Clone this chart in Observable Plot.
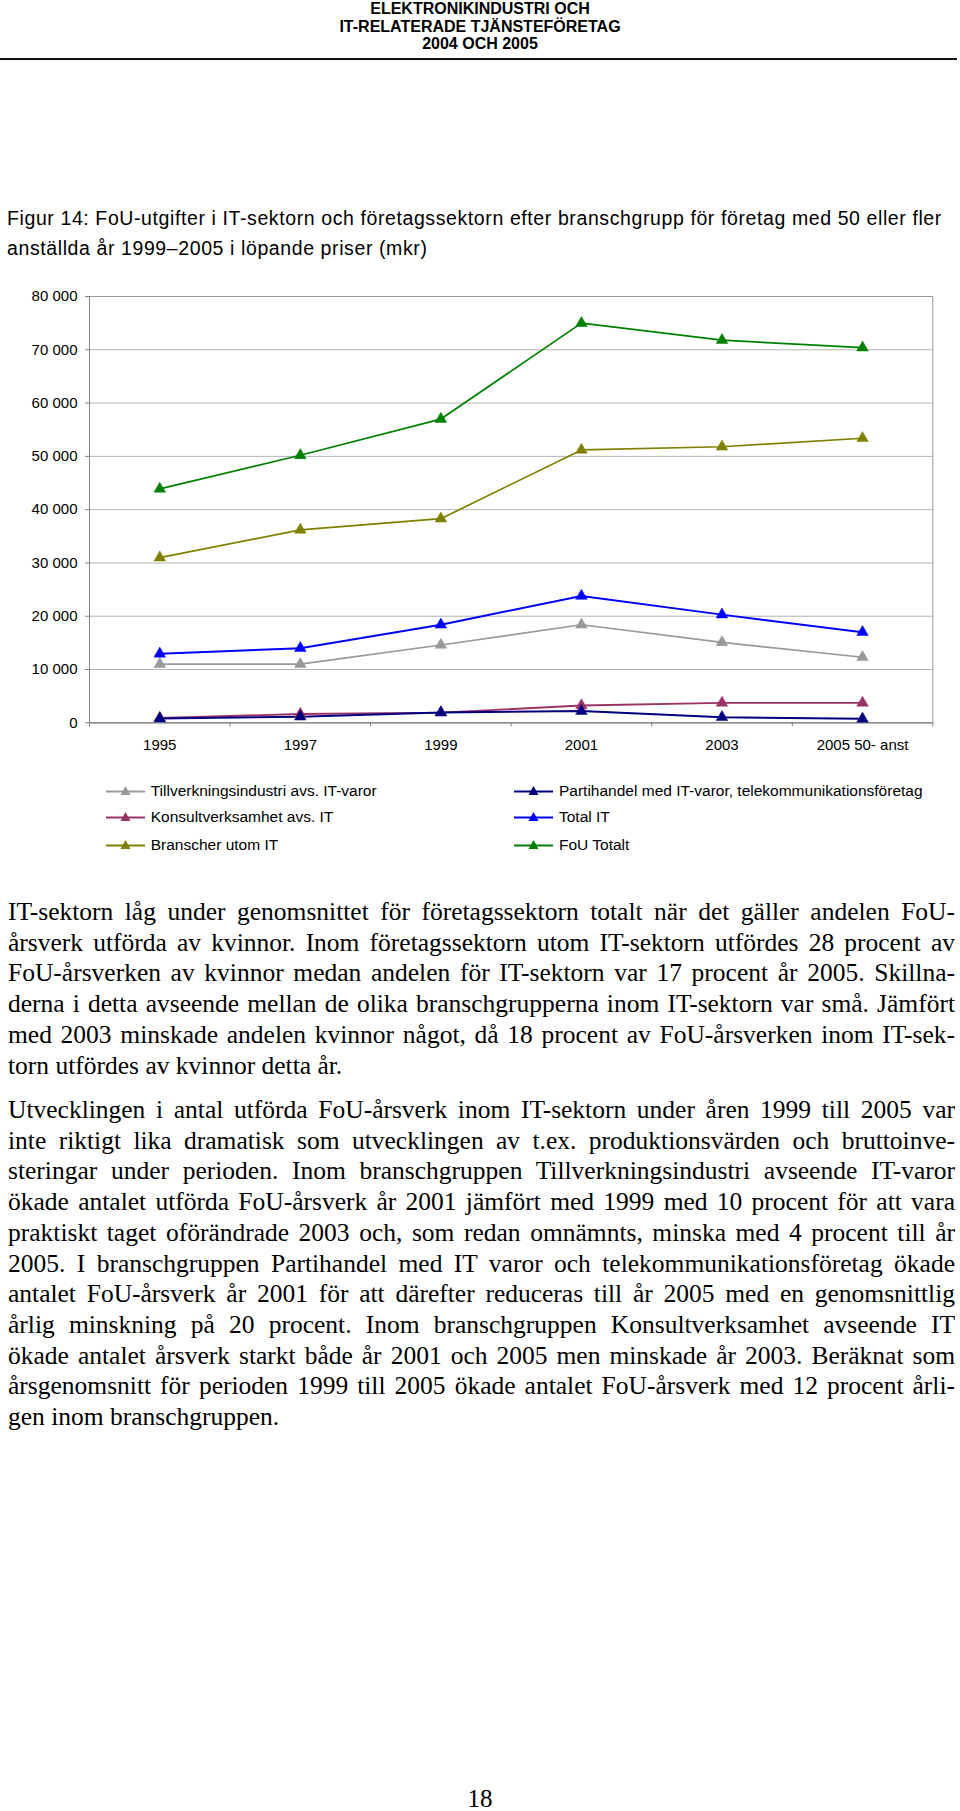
<!DOCTYPE html>
<html>
<head>
<meta charset="utf-8">
<script src="https://cdn.jsdelivr.net/npm/d3@7"></script>
<script src="https://cdn.jsdelivr.net/npm/@observablehq/plot@0.6"></script>
<style>
  html, body { margin: 0; padding: 0; background: #fff; }
  body { width: 960px; height: 1811px; position: relative; overflow: hidden; color: #000; }
  #header { position: absolute; top: 0; left: 0; width: 960px; text-align: center;
    font: bold 16px/17.5px "Liberation Sans", Arial, sans-serif; }
  #rule { position: absolute; top: 57.5px; left: 0; width: 957px; height: 2px; background: #111; }
  #caption { position: absolute; left: 7px; top: 203px; white-space: nowrap;
    font: 19.5px/30px "Liberation Sans", Arial, sans-serif; letter-spacing: 0.6px; }
  #chart { position: absolute; left: 0; top: 270px; }
  #legend { position: absolute; left: 0; top: 0; width: 960px; height: 0;
    font: 15.5px "Liberation Sans", Arial, sans-serif; }
  .item { position: absolute; height: 20px; display: flex; align-items: center; white-space: nowrap; }
  .item svg { margin-right: 6px; }
  .body { position: absolute; left: 8px; width: 947px;
    font: 25.5px/30.7px "Liberation Serif", "Times New Roman", serif; }
  .body div { white-space: nowrap; text-align: justify; text-align-last: justify; }
  .body div.last { text-align-last: left; }
  #page { position: absolute; top: 1784px; left: 0; width: 960px; text-align: center;
    font: 25px/30px "Liberation Serif", "Times New Roman", serif; }
</style>
</head>
<body>
<div id="header">ELEKTRONIKINDUSTRI OCH<br>IT-RELATERADE TJÄNSTEFÖRETAG<br>2004 OCH 2005</div>
<div id="rule"></div>
<div id="caption">Figur 14: FoU-utgifter i IT-sektorn och företagssektorn efter branschgrupp för företag med 50 eller fler<br>anställda år 1999–2005 i löpande priser (mkr)</div>
<div id="chart"></div>
<div id="legend"></div>
<div class="body" style="top:897px">
<div>IT-sektorn låg under genomsnittet för företagssektorn totalt när det gäller andelen FoU-</div>
<div>årsverk utförda av kvinnor. Inom företagssektorn utom IT-sektorn utfördes 28 procent av</div>
<div>FoU-årsverken av kvinnor medan andelen för IT-sektorn var 17 procent år 2005. Skillna-</div>
<div>derna i detta avseende mellan de olika branschgrupperna inom IT-sektorn var små. Jämfört</div>
<div>med 2003 minskade andelen kvinnor något, då 18 procent av FoU-årsverken inom IT-sek-</div>
<div class="last">torn utfördes av kvinnor detta år.</div>
</div>
<div class="body" style="top:1095px">
<div>Utvecklingen i antal utförda FoU-årsverk inom IT-sektorn under åren 1999 till 2005 var</div>
<div>inte riktigt lika dramatisk som utvecklingen av t.ex. produktionsvärden och bruttoinve-</div>
<div>steringar under perioden. Inom branschgruppen Tillverkningsindustri avseende IT-varor</div>
<div>ökade antalet utförda FoU-årsverk år 2001 jämfört med 1999 med 10 procent för att vara</div>
<div>praktiskt taget oförändrade 2003 och, som redan omnämnts, minska med 4 procent till år</div>
<div>2005. I branschgruppen Partihandel med IT varor och telekommunikationsföretag ökade</div>
<div>antalet FoU-årsverk år 2001 för att därefter reduceras till år 2005 med en genomsnittlig</div>
<div>årlig minskning på 20 procent. Inom branschgruppen Konsultverksamhet avseende IT</div>
<div>ökade antalet årsverk starkt både år 2001 och 2005 men minskade år 2003. Beräknat som</div>
<div>årsgenomsnitt för perioden 1999 till 2005 ökade antalet FoU-årsverk med 12 procent årli-</div>
<div class="last">gen inom branschgruppen.</div>
</div>
<div id="page">18</div>
<script>
// ---- data ----
const years = ["1995", "1997", "1999", "2001", "2003", "2005 50- anst"];
const seriesNames = [
  "Tillverkningsindustri avs. IT-varor",
  "Konsultverksamhet avs. IT",
  "Branscher utom IT",
  "Partihandel med IT-varor, telekommunikationsföretag",
  "Total IT",
  "FoU Totalt"
];
const tillverkning = [11000, 11000, 14600, 18400, 15100, 12300];
const konsult      = [900, 1650, 1900, 3250, 3750, 3750];
const branscher    = [31000, 36200, 38300, 51200, 51800, 53400];
const partihandel  = [800, 1150, 1950, 2200, 1050, 750];
const totalIT      = [12950, 14000, 18400, 23800, 20300, 17000];
const fouTotalt    = [43900, 50200, 57000, 75000, 71800, 70400];
const yTicks = [0, 10000, 20000, 30000, 40000, 50000, 60000, 70000, 80000];

// ---- styles ----
const seriesColors = ["#999999", "#993366", "#808000", "#000080", "#0000ff", "#008000"];
const seriesWidths = [1.7, 1.8, 1.7, 2, 2, 1.7];
const legendOrder = [0, 3, 1, 4, 2, 5];

const seriesValues = [tillverkning, konsult, branscher, partihandel, totalIT, fouTotalt];
const rows = seriesNames.flatMap((name, s) =>
  years.map((yr, i) => ({series: name, pos: i + 0.5, year: yr, value: seriesValues[s][i], w: seriesWidths[s]})));

const fmt = v => d3.format(",")(v).replace(/,/g, " ");

const chart = Plot.plot({
  width: 960,
  height: 490,
  marginTop: 26,
  marginBottom: 37.7,
  marginLeft: 89,
  marginRight: 27.7,
  style: {fontFamily: '"Liberation Sans", Arial, sans-serif', fontSize: "15px", color: "#000", background: "transparent"},
  x: {domain: [0, years.length], axis: null, label: null},
  y: {domain: [0, 80000], axis: null, label: null},
  color: {domain: seriesNames, range: seriesColors},
  marks: [
    Plot.gridY(yTicks, {stroke: "#b4b4b4", strokeOpacity: 1}),
    Plot.frame({stroke: "#999"}),
    Plot.ruleX([0], {stroke: "#808080"}),
    Plot.ruleY([0], {stroke: "#808080"}),
    Plot.axisY({ticks: yTicks, tickFormat: fmt, tickSize: 4, tickPadding: 8, stroke: "#808080", fill: "#000", label: null}),
    Plot.axisX({ticks: d3.range(0, years.length + 1), tickFormat: () => "", tickSize: 4, stroke: "#808080", label: null}),
    Plot.axisX({ticks: d3.range(0, years.length).map(i => i + 0.5), tickFormat: d => years[Math.floor(d)], tickSize: 0, tickPadding: 17, fill: "#000", label: null}),
    ...seriesNames.map((name, s) =>
      Plot.line(rows.filter(d => d.series === name), {x: "pos", y: "value", stroke: "series", strokeWidth: seriesWidths[s]})),
    Plot.dot(rows, {x: "pos", y: "value", symbol: "triangle", r: 4.3, fill: "series", stroke: "series", strokeWidth: 0.5})
  ]
});
document.getElementById("chart").appendChild(chart);

// ---- legend ----
const legend = document.getElementById("legend");
const rowTops = [780.7, 807.3, 835];
legendOrder.forEach((s, k) => {
  const col = k % 2, r = Math.floor(k / 2);
  const item = document.createElement("div");
  item.className = "item";
  item.style.left = (col === 0 ? 105.7 : 514) + "px";
  item.style.top = rowTops[r] + "px";
  const c = seriesColors[s];
  item.innerHTML = `<svg width="39" height="14"><line x1="0" x2="39" y1="7.5" y2="7.5" stroke="${c}" stroke-width="2"/>` +
    `<polygon points="19.5,2 24.5,11 14.5,11" fill="${c}"/></svg><span>${seriesNames[s]}</span>`;
  legend.appendChild(item);
});
</script>
</body>
</html>
